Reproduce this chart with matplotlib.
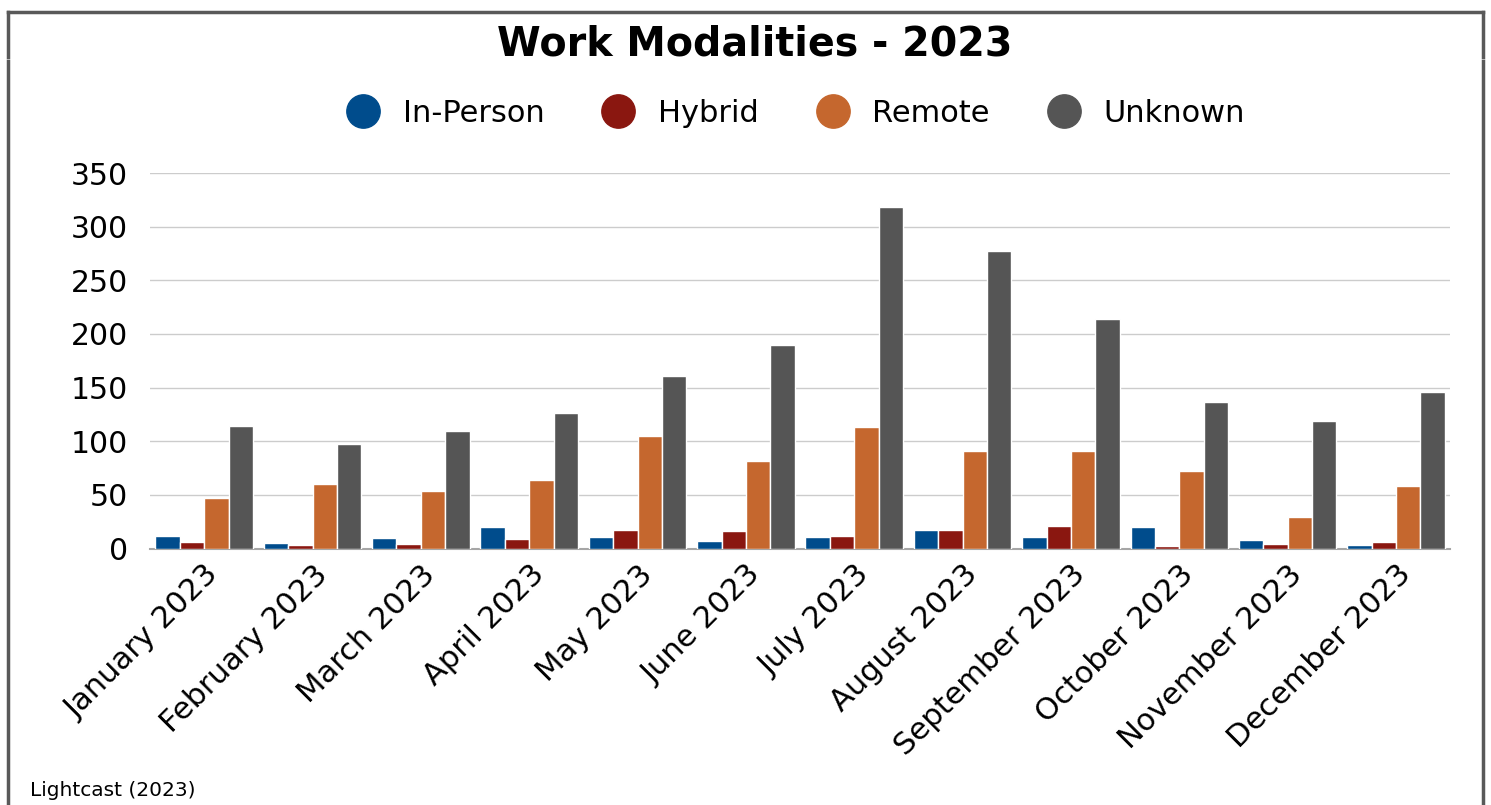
import numpy as np
import matplotlib.pyplot as plt
from matplotlib.lines import Line2D

# Monthly job postings by work modality
months = ["January 2023", "February 2023", "March 2023", "April 2023", "May 2023",
          "June 2023", "July 2023", "August 2023", "September 2023", "October 2023",
          "November 2023", "December 2023"]
in_person = [12, 5, 10, 20, 11, 7, 11, 17, 11, 20, 8, 3]
hybrid = [6, 3, 4, 9, 17, 16, 12, 17, 21, 2, 4, 6]
remote = [47, 60, 54, 64, 105, 82, 113, 91, 91, 72, 29, 58]
unknown = [114, 97, 110, 126, 161, 190, 318, 277, 214, 137, 119, 146]

series = [("In-Person", in_person, "#004C8C"),
          ("Hybrid", hybrid, "#8A1710"),
          ("Remote", remote, "#C5672E"),
          ("Unknown", unknown, "#555555")]

plt.rcParams['font.family'] = ['DejaVu Sans']

fig = plt.figure(figsize=(14.91, 8.05), dpi=100)
ax = fig.add_axes([0.1006, 0.3186, 0.872, 0.4664])

x = np.arange(len(months))
w = 0.225
for i, (name, vals, col) in enumerate(series):
    ax.bar(x + (i - 1.5) * w, vals, width=w, color=col, edgecolor="white",
           linewidth=1.0, zorder=3)

ax.set_ylim(0, 350)
ax.set_yticks(range(0, 351, 50))
ax.set_xlim(-0.5, len(months) - 0.5)
ax.set_xticks(x)
ax.set_xticklabels(months, rotation=45, ha="right", rotation_mode="anchor")
ax.tick_params(axis="both", length=0, labelsize=21.5, colors="black")
ax.tick_params(axis="x", labelsize=22, pad=8)
ax.tick_params(axis="y", pad=16)
ax.grid(axis="y", color="#CCCCCC", linewidth=1, zorder=0)
for s in ["top", "right", "left"]:
    ax.spines[s].set_visible(False)
ax.spines["bottom"].set_color("#A6A6A6")
ax.spines["bottom"].set_linewidth(1.5)

fig.text(0.506, 0.945, "Work Modalities - 2023", ha="center", va="center",
         fontsize=28.5, fontweight="bold")

handles = [Line2D([0], [0], marker="o", linestyle="", markersize=24,
                  markerfacecolor=c, markeredgecolor=c, label=n)
           for n, _, c in series]
fig.legend(handles=handles, loc="center", bbox_to_anchor=(0.529, 0.859), ncol=4,
           frameon=False, fontsize=22, handletextpad=0.3, columnspacing=1.42)

fig.text(0.020, 0.018, "Lightcast (2023)", ha="left", va="center", fontsize=14.5)

# frame around the chart (with a small gap on the sides)
fc = "#595959"
lw = 2.5
fig.add_artist(Line2D([8 / 1491, 1483 / 1491], [1 - 12 / 805] * 2, color=fc, lw=lw,
                      transform=fig.transFigure))
for xs in [8 / 1491, 1483 / 1491]:
    fig.add_artist(Line2D([xs, xs], [1 - 12 / 805, 1 - 57 / 805], color=fc, lw=lw,
                          transform=fig.transFigure))
    fig.add_artist(Line2D([xs, xs], [1 - 61 / 805, 0], color=fc, lw=lw,
                          transform=fig.transFigure))

fig.savefig("out.png", dpi=100)
